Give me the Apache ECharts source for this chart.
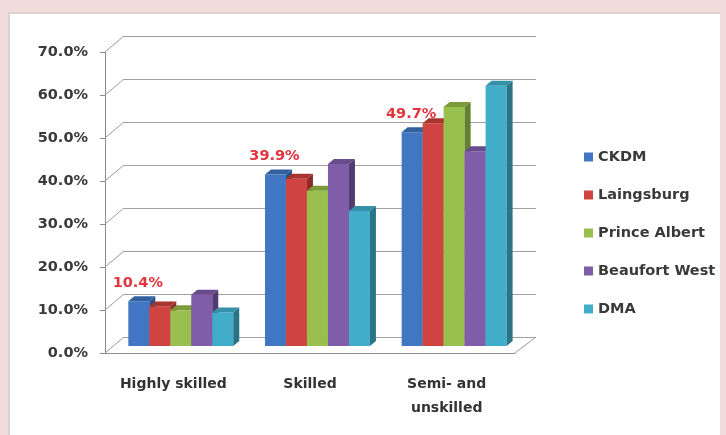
<!DOCTYPE html>
<html>
<head>
<meta charset="utf-8">
<script src="https://cdn.jsdelivr.net/npm/echarts@6/dist/echarts.min.js"></script>
<style>
  html, body { margin: 0; padding: 0; background: #f2dcdb; }
  #chart { width: 726px; height: 435px; }
</style>
</head>
<body>
<div id="chart"></div>
<script>
// Skill level shares per municipality (percent)
const categories = ['Highly skilled', 'Skilled', 'Semi- and\nunskilled'];
const seriesNames = ['CKDM', 'Laingsburg', 'Prince Albert', 'Beaufort West', 'DMA'];
const ckdm = [10.4, 39.9, 49.7];
const laingsburg = [9.2, 38.9, 51.8];
const princeAlbert = [8.3, 36.1, 55.6];
const beaufortWest = [11.9, 42.3, 45.3];
const dma = [7.8, 31.4, 60.5];
const wallTicks = [0, 10, 20, 30, 40, 50, 60, 70];

const FONT = 'DejaVu Sans';
const front = ['#4177c2', '#cf4440', '#99bf4e', '#7f5da8', '#42adca'];
const sideC = ['#2b5088', '#8e2b29', '#64802f', '#523b72', '#2a7487'];
const topC  = ['#33619f', '#a8332f', '#7b9b3a', '#684b8c', '#3590a8'];

// depth of each column's side / top faces (screen px)
const DEPTH_X = 6, DEPTH_Y = -5;

function pct(v) { return v.toFixed(1) + '%'; }

function columnRenderer(k, withLabel) {
  return function (params, api) {
    const cat = api.value(0), v = api.value(1);
    const band = api.size([1, 0])[0];
    const base = api.coord([cat, 0]);
    const head = api.coord([cat, v]);
    const w = band * 0.1536;
    const x0 = base[0] - band / 2 + band * 0.112 + k * w;
    const x1 = x0 + w, yb = base[1], yt = head[1];
    const children = [
      { type: 'rect', shape: { x: x0, y: yt, width: w, height: yb - yt }, style: { fill: front[k] } },
      { type: 'polygon', shape: { points: [[x1, yb], [x1 + DEPTH_X, yb + DEPTH_Y], [x1 + DEPTH_X, yt + DEPTH_Y], [x1, yt]] }, style: { fill: sideC[k] } },
      { type: 'polygon', shape: { points: [[x0, yt], [x0 + DEPTH_X, yt + DEPTH_Y], [x1 + DEPTH_X, yt + DEPTH_Y], [x1, yt]] }, style: { fill: topC[k] } }
    ];
    if (withLabel) {
      children.push({
        type: 'text', z2: 100,
        style: {
          text: pct(v), x: x0 + w / 2 - 1, y: yt - 18,
          align: 'center', verticalAlign: 'middle',
          fill: '#e0353d', font: 'bold 14.5px "' + FONT + '"'
        }
      });
    }
    return { type: 'group', children: children };
  };
}

const values = [ckdm, laingsburg, princeAlbert, beaufortWest, dma];
const columnSeries = values.map(function (arr, k) {
  return {
    type: 'custom',
    name: seriesNames[k],
    xAxisIndex: 2, yAxisIndex: 2,
    itemStyle: { color: front[k] },
    renderItem: columnRenderer(k, k === 0),
    encode: { x: 0, y: 1 },
    data: arr.map(function (v, i) { return [i, v]; })
  };
});

// side wall connectors from front ticks to the back wall, plus the floor's right edge
const wallSeries = {
  type: 'custom',
  xAxisIndex: 0, yAxisIndex: 0,
  silent: true,
  renderItem: function (params, api) {
    const v = api.value(1);
    const band = api.size([1, 0])[0];
    const p = api.coord([0, v]);
    const left = p[0] - band / 2;
    const lines = [{ type: 'line', shape: { x1: left, y1: p[1], x2: left + 19, y2: p[1] - 16 }, style: { stroke: '#9a9a9a', lineWidth: 1 } }];
    if (v === 0) {
      const right = left + band * categories.length;
      lines.push({ type: 'line', shape: { x1: right, y1: p[1], x2: right + 21, y2: p[1] - 16 }, style: { stroke: '#9a9a9a', lineWidth: 1 } });
    }
    return { type: 'group', children: lines };
  },
  encode: { x: 0, y: 1 },
  data: wallTicks.map(function (v) { return [0, v]; })
};

const hiddenY = { min: 0, max: 70, interval: 10, type: 'value' };

const option = {
  animation: false,
  backgroundColor: '#f2dcdb',
  graphic: [
    { type: 'rect', z: -10, silent: true, shape: { x: 8, y: 12, width: 712, height: 430 }, style: { fill: '#ffffff' } },
    { type: 'line', z: -9, silent: true, shape: { x1: 8, y1: 13, x2: 720, y2: 13 }, style: { stroke: '#d9d2d2', lineWidth: 2 } },
    { type: 'line', z: -9, silent: true, shape: { x1: 9, y1: 12, x2: 9, y2: 435 }, style: { stroke: '#d9d2d2', lineWidth: 2 } }
  ],
  grid: [
    { left: 105, top: 52, width: 410, height: 301 },  // front plane (axes)
    { left: 124, top: 36, width: 412, height: 301 },  // back wall (gridlines)
    { left: 113, top: 45, width: 410, height: 301 }   // column plane
  ],
  legend: {
    orient: 'vertical', left: 579, top: 144,
    itemWidth: 9, itemHeight: 9, itemGap: 22, icon: 'rect',
    data: seriesNames,
    textStyle: { fontFamily: FONT, fontSize: 14.5, fontWeight: 'bold', color: '#3a3a3a', lineHeight: 16 }
  },
  xAxis: [
    {
      gridIndex: 0, type: 'category', data: categories,
      axisLine: { lineStyle: { color: '#8c8c8c' } },
      axisTick: { length: 8, lineStyle: { color: '#8c8c8c' } },
      axisLabel: { interval: 0, margin: 19, fontFamily: FONT, fontWeight: 'bold', fontSize: 14, color: '#333', lineHeight: 24 }
    },
    { gridIndex: 1, type: 'category', data: categories, show: false },
    { gridIndex: 2, type: 'category', data: categories, show: false }
  ],
  yAxis: [
    Object.assign({}, hiddenY, {
      gridIndex: 0,
      axisLine: { show: true, lineStyle: { color: '#8c8c8c' } },
      axisTick: { show: true, length: 5, lineStyle: { color: '#8c8c8c' } },
      splitLine: { show: false },
      axisLabel: { formatter: pct, margin: 17, fontFamily: FONT, fontWeight: 'bold', fontSize: 14.5, color: '#3a3a3a' }
    }),
    Object.assign({}, hiddenY, {
      gridIndex: 1,
      axisLine: { show: false }, axisTick: { show: false }, axisLabel: { show: false },
      splitLine: { show: true, lineStyle: { color: '#a0a0a0', width: 1 } }
    }),
    Object.assign({}, hiddenY, { gridIndex: 2, show: false, splitLine: { show: false } })
  ],
  series: [wallSeries].concat(columnSeries)
};

const chart = echarts.init(document.getElementById('chart'), null, { renderer: 'canvas' });
chart.setOption(option);
</script>
</body>
</html>
